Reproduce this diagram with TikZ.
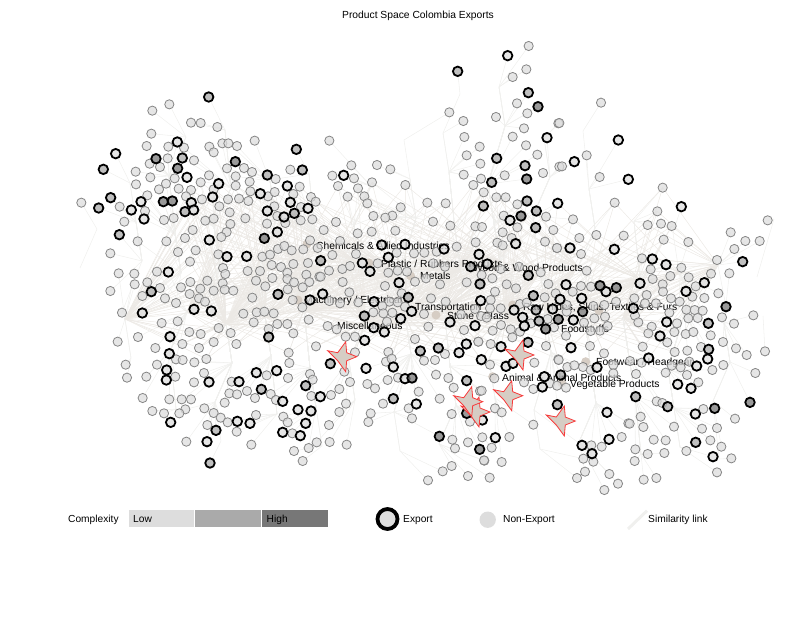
\documentclass[tikz,border=0pt]{standalone}
\usepackage{fontspec}
\setmainfont{Liberation Sans}
\definecolor{lowc}{HTML}{DDDDDD}
\definecolor{midc}{HTML}{AAAAAA}
\definecolor{highc}{HTML}{777777}
\definecolor{linkc}{HTML}{F0F0EE}
\definecolor{webc}{HTML}{ECE9E5}
\definecolor{tanc}{HTML}{D6CDC4}
\definecolor{starred}{HTML}{F83A3A}
\tikzset{
  nonexp/.style={circle,draw=black!48,fill=lowc,line width=.8pt,minimum size=9.2pt,inner sep=0pt,fill opacity=.74},
  expl/.style={circle,draw=black,fill=lowc,line width=1.8pt,minimum size=9.5pt,inner sep=0pt,fill opacity=.74},
  expm/.style={expl,fill=midc},
  expd/.style={expl,fill=highc},
  tannode/.style={circle,fill=tanc,minimum size=9pt,inner sep=0pt},
  linkline/.style={draw=linkc,line width=.55pt},
  webline/.style={draw=webc,line width=.5pt},
  prodstar/.style={draw=starred,fill=tanc,line width=.8pt,line join=miter},
  seclabel/.style={inner sep=0pt,font=\fontsize{10.3}{12}\selectfont,text=black,anchor=west},
  txt/.style={inner sep=0pt,font=\fontsize{10.2}{12}\selectfont,text=black,anchor=west},
  legbar/.style={draw=none,inner sep=0pt,minimum height=17pt,minimum width=65.6pt,anchor=west}
}
\newcounter{nid}
\newcommand{\drawlinks}[4]{%
  \foreach \zx/\zy in {#4}{%
    \pgfmathsetmacro\px{#1+\zx/3}%
    \pgfmathsetmacro\py{#2+\zy/3}%
    \stepcounter{nid}%
    \coordinate (n\arabic{nid}) at (\px,\py);%
    \pgfmathtruncatemacro\ix{\px<400 ? ceil(\px/45) : floor(\px/45)}%
    \pgfmathtruncatemacro\iy{\py<290 ? ceil(\py/45) : floor(\py/45)}%
    \draw[linkline] (n\arabic{nid}) -- (h-\ix-\iy);%
    \ifnum\iy<6
      \foreach \k in {\iy,...,5}{\pgfmathtruncatemacro\kn{\k+1}\draw[linkline] (h-\ix-\k) -- (h-\ix-\kn);}%
    \fi
    \ifnum\iy>7
      \foreach \k in {8,...,\iy}{\pgfmathtruncatemacro\kn{\k-1}\draw[linkline] (h-\ix-\k) -- (h-\ix-\kn);}%
    \fi
    \ifnum\iy>4 \ifnum\iy<8 \ifnum\ix>4 \ifnum\ix<15
      \pgfmathtruncatemacro\ixa{\ix+2}\pgfmathtruncatemacro\ixb{\ix-2}%
      \draw[webline] (n\arabic{nid}) -- (h-\ixa-6);%
      \draw[webline] (n\arabic{nid}) -- (h-\ixb-7);%
      \draw[webline] (n\arabic{nid}) -- (h-\ix-7);%
    \fi\fi\fi\fi
  }%
}
\newcommand{\drawnodes}[4]{%
  \foreach \zx/\zy in {#4}{%
    \pgfmathsetmacro\px{#1+\zx/3}%
    \pgfmathsetmacro\py{#2+\zy/3}%
    \stepcounter{nid}%
    \node[#3] (n\arabic{nid}) at (\px,\py) {};%
  }%
}
\newcommand{\putstar}[1]{%
  \path[prodstar,shift={#1}] (-13,-6) -- (-3,-4) -- (5,-15) -- (6,-4) -- (16,0) -- (6,4) -- (5,15) -- (-3,4) -- cycle;%
}
\newcommand{\allnodes}{%
% region 1
\plotnodes{70}{80}{nonexp}{298/73,247/92,363/128,392/129,442/141,244/161,230/198,295/200,342/203,457/190,475/190,501/198,554/182,418/200,431/217,293/235,372/241,239/251,270/261,197/275,241/292,314/295,471/265,522/264,546/276,417/286,497/289,539/305,617/297,661/269,198/313,267/328,288/311,392/307,326/326,363/330,431/328,497/317,541/334,689/320,232/346,348/349,396/358,474/358,507/356,535/363,594/349,614/336,670/342,723/351,737/365,34/368,149/380,225/393,448/379,479/397,613/379,693/381,163/425,282/420,311/414,406/422,431/416,526/415,622/408,646/429,692/421,727/418,591/431,368/450,481/432,470/456,454/471,345/474,203/484,289/484,720/481,121/520,324/516,377/511,445/523,577/530,600/524,624/507,643/498,665/511,700/508,743/504,360/545,459/564,605/555,633/561,670/552,714/549}%
\plotnodes{70}{80}{expl}{322/186,137/221,351/292,446/311,428/351,571/341,652/318,213/365,184/390,222/417,364/368,371/390,661/367,714/385,592/393,642/411,622/456,418/480,471/530,530/529}%
\plotnodes{70}{80}{expm}{416/51,337/234,100/268,122/353,86/384,679/208,697/270,673/400,148/464,345/395,592/285}%
\plotnodes{70}{80}{expd}{258/236,323/265,280/365,307/363,496/245,583/475}%
% region 4
\plotnodes{70}{260}{nonexp}{146/40,193/41,261/35,466/42,533/33,570/33,652/38,709/44,748/50,194/73,232/67,270/84,333/82,361/66,412/62,458/70,558/62,607/54,652/57,672/67,718/66,698/82,121/93,217/108,285/115,359/102,391/86,431/92,464/89,490/92,586/79,653/88,387/115,405/125,318/129,547/113,668/120,697/142,156/158,520/161,560/157,583/155,611/160,716/179,275/189,323/184,551/187,622/192,652/192,670/220,204/231,358/216,392/222,446/204,482/219,596/207,143/245,337/252,431/246,499/252,256/264,387/264,738/259,656/278,318/298,338/300,409/297,373/307,658/309,167/314,261/314,402/339,720/342,590/346,171/353,229/350,316/350,372/367,485/365,654/354,728/359,478/400,501/403,531/393,602/402,618/420,724/408,218/414,298/418,335/418,363/418,555/414,464/428,403/445,247/453,346/448,328/460,282/460,431/459,452/473,473/487,558/465,640/470,653/487,412/495,500/515,667/520,349/545,544/554,740/547,716/564,672/573,698/603}%
\plotnodes{70}{260}{expl}{295/36,372/148,424/153,300/230,298/281,559/338,620/332,290/330,289/360,417/366,507/365,217/159,720/120,638/424,684/449,723/453,502/484,540/490,707/490,638/517,691/527,302/487,411/545}%
\plotnodes{70}{260}{expm}{244/95,624/103,596/231,574/388,707/377,438/511,420/609}%
% region 2
\plotnodes{310}{30}{nonexp}{656/48,649/118,608/141,621/220,652/250,418/247,460/273,558/261,745/280,642/295,463/321,608/320,58/332,648/346,509/350,682/374,470/376,511/401,124/406,201/405,241/418,461/434,513/446,584/436,699/429,748/410,67/437,132/445,186/457,286/465,84/468,490/465,144/475,521/487,113/500,163/499,559/502,587/502,172/520,352/518,407/520,622/523,272/532,581/557,708/560,190/558,247/557,226/563,78/576,369/575,730/600,41/600,421/587,496/589,516/591,622/592,256/602,578/607,605/624,497/637}%
\plotnodes{310}{30}{expl}{593/77,711/323,101/436,743/520,600/571}%
\plotnodes{310}{30}{expm}{443/124,655/188,560/385,645/407,545/457,520/528,651/513,679/543,677/593}%
\plotnodes{310}{30}{expd}{684/230,650/447,633/558}%
% region 3
\plotnodes{550}{90}{nonexp}{153/38,28/99,110/196,36/229,149/261,338/293,194/338,322/364,69/388,293/405,333/401,365/408,653/391,139/435,221/437,88/444,542/427,586/453,629/453,341/449,415/456,553/477,21/474}%
\plotnodes{550}{90}{expl}{205/150,73/215,235/268,394/350,193/478,60/474}%
% region 5
\plotnodes{300}{230}{nonexp}{173/10,215/5,120/33,97/75,168/72,233/100,127/117,87/122,62/140,150/108,265/128,293/122,321/125,128/156,255/168,345/155,378/145,420/163,500/157,373/68,410/65,470/50,290/68,342/70,400/100,435/110,148/187,305/190,393/205,437/215,175/217,268/215,293/217,120/220,88/213,220/247,247/228,277/248,250/250,315/230,372/252,483/253,261/275,385/290,492/300,345/327,137/320,165/320,83/288,110/298}%
\plotnodes{300}{230}{expl}{245/45,315/43,432/57,265/82,187/99,210/124,297/158,68/192,222/215,335/244,302/266,221/293,253/306,194/331,450/276}%
\plotnodes{300}{230}{expm}{62/92,512/110,325/202,193/258}%
% region 6
\plotnodes{470}{240}{nonexp}{82/8,98/16,225/5,261/24,333/42,92/87,147/80,212/97,350/92,35/105,67/115,110/133,138/145,235/132,75/155,62/180,333/138,363/140,308/155,257/160,224/172,150/192,170/188,92/205,60/205,33/228,50/233,15/207,290/215,370/198,403/195,373/235,405/230,290/195,233/237,342/248,183/250,93/255,68/272,122/268,150/275,127/292,62/312,25/305,228/318,252/262,288/287,362/273,390/272,413/258,360/318,402/340,265/358}%
\plotnodes{470}{240}{expl}{27/43,137/11,52/72,288/134,408/155,270/178,335/175,32/182,132/210,248/207,158/232,310/240,163/258,15/257,93/320,303/323}%
\plotnodes{470}{240}{expm}{175/106,30/132,190/167,198/210,207/243,174/307}%
\plotnodes{470}{240}{expd}{338/215,265/238,227/267,390/137}%
% region 7
\plotnodes{610}{250}{nonexp}{96/25,321/30,122/58,214/53,128/87,181/78,236/82,303/71,358/70,158/103,257/109,159/125,110/135,325/130,73/145,183/145,247/140,283/144,18/155,138/160,105/160,209/155,178/188,229/179,254/180,278/182,75/197,336/202,235/205,263/204,85/217,201/220,430/196,372/221,125/230,193/246,115/250,227/252,250/246,302/256,172/277,339/276,98/290,273/291,378/295,194/306,232/302,465/304,410/315,340/345,238/335,60/333,95/338,10/345,185/347,212/352,307/360,78/372,167/368,231/375,436/369,265/397}%
\plotnodes{610}{250}{expl}{127/27,168/44,90/100,283/98,228/124,70/175,170/216,150/258,116/324,293/327,260/348,203/403,243/415}%
\plotnodes{610}{250}{expm}{398/35,295/220,296/298}%
\plotnodes{610}{250}{expd}{19/113,348/170}%
% region 8
\plotnodes{310}{340}{nonexp}{135/37,235/36,228/65,245/56,103/95,120/126,172/132,195/145,233/120,264/113,342/62,375/60,405/42,378/104,415/114,431/143,326/155,510/153,505/5,389/176,88/147,63/165,108/191,219/191,88/216,182/220,175/246,296/205,306/235,425/222,480/245,57/255,59/306,110/314,427/299,435/325,474/307,517/292,523/362,425/378,398/394,354/421,474/408}%
\plotnodes{310}{340}{expl}{168/85,250/81,285/116,319/192,31/170,447/38,514/59,517/240,469/12}%
\plotnodes{310}{340}{expm}{61/71,331/33,385/24,470/122,250/176}%
\plotnodes{310}{340}{expd}{306/114,388/289,509/328,470/220}%
% region 9
\plotnodes{480}{340}{nonexp}{163/68,236/60,30/74,262/81,283/76,309/81,332/90,43/115,160/147,210/130,231/137,258/143,132/127,400/100,5/152,45/205,65/217,160/254,88/291,35/323,12/361,65/366,29/413,425/291,365/320,334/316,445/250,310/356,340/365,315/395,291/414,388/402,414/431,373/450}%
\plotnodes{480}{340}{expl}{78/79,99/70,193/110,187/141,351/82,46/293,381/217,387/298,306/316,336/341}%
\plotnodes{480}{340}{expm}{242/105,232/194}%
% region 10
\plotnodes{620}{380}{nonexp}{110/64,127/69,250/87,345/116,62/110,29/131,70/141,162/140,246/146,291/144,101/179,137/181,271/181,304/200,46/208,83/222,133/219,199/213,334/235,44/243,291/277,71/299,109/294}%
\plotnodes{620}{380}{expl}{226/102,279/230}%
\plotnodes{620}{380}{expm}{47/50,143/80,227/187}%
\plotnodes{620}{380}{expd}{284/85,390/67}%
}
\begin{document}
\begin{tikzpicture}[x=1pt,y=-1pt]
\useasboundingbox (0,0) rectangle (800,619);
\foreach \i in {0,...,19}{\foreach \j in {0,...,13}{%
  \pgfmathsetmacro\hx{45*\i+mod(\i*17+\j*29,23)-11}%
  \pgfmathsetmacro\hy{45*\j+mod(\i*31+\j*13,19)-9}%
  \coordinate (h-\i-\j) at (\hx,\hy);%
}}
\let\plotnodes\drawlinks
\setcounter{nid}{0}
\allnodes
\node[inner sep=0pt,font=\fontsize{10.3}{12}\selectfont] (title) at (418,16) {Product Space Colombia Exports};
\foreach \nm/\tx/\ty in {t1/307/244,t2/298/300,t3/369/263,t4/410.7/276,t5/436/315,t6/512.7/305,t7/599/310.7,t8/585.7/361.7,t9/492.7/376.7,t10/561.7/382.7}{\node[tannode] (\nm) at (\tx,\ty) {};}
\node[seclabel] (l1) at (316,245.5) {Chemicals \& Allied Industries};
\node[seclabel] (l2) at (381,263.5) {Plastic / Rubbers Products};
\node[seclabel] (l3) at (473,268) {Wood \& Wood Products};
\node[seclabel] (l4) at (420,276) {Metals};
\node[seclabel] (l5) at (304,301) {Machinery / Electrical};
\node[seclabel] (l6) at (415,308) {Transportation};
\node[seclabel] (l7) at (447,315.5) {Stone / Glass};
\node[seclabel] (l8) at (337,326) {Miscellaneous};
\node[seclabel] (l9) at (523,307) {Raw Hides, Skins, Textiles \& Furs};
\node[seclabel] (l10) at (561,329) {Foodstuffs};
\node[seclabel] (l11) at (596,363) {Footwear / Headgear};
\node[seclabel] (l12) at (502,378) {Animal \& Animal Products};
\node[seclabel] (l13) at (570,385) {Vegetable Products};
\let\plotnodes\drawnodes
\setcounter{nid}{0}
\allnodes
% stars
\putstar{(340.7,356.7)}
\putstar{(518,355)}
\putstar{(474,412)}
\putstar{(466.7,401.7)}
\putstar{(506.7,395.7)}
\putstar{(559.3,421)}
% legend
\node[txt] (lc) at (68,519.8) {Complexity};
\node[legbar,fill=lowc] (b1) at (128.4,518.5) {};
\node[legbar,fill=midc] (b2) at (195,518.5) {};
\node[legbar,fill=highc] (b3) at (261.8,518.5) {};
\node[txt] (bl) at (133,519.5) {Low};
\node[txt] (bh) at (266.5,519.5) {High};
\node[circle,draw=black,fill=lowc,line width=3.8pt,minimum size=20pt,inner sep=0pt] (le) at (387.5,519) {};
\node[txt] (lt) at (403,520) {Export};
\node[circle,fill=lowc,minimum size=16.4pt,inner sep=0pt] (ln) at (487.7,519.7) {};
\node[txt] (lu) at (503,520) {Non-Export};
\coordinate (s1) at (628,529);
\coordinate (s2) at (647,510.7);
\draw[draw=linkc,line width=3pt] (s1) -- (s2);
\node[txt] (lv) at (648,520) {Similarity link};
\end{tikzpicture}
\end{document}
